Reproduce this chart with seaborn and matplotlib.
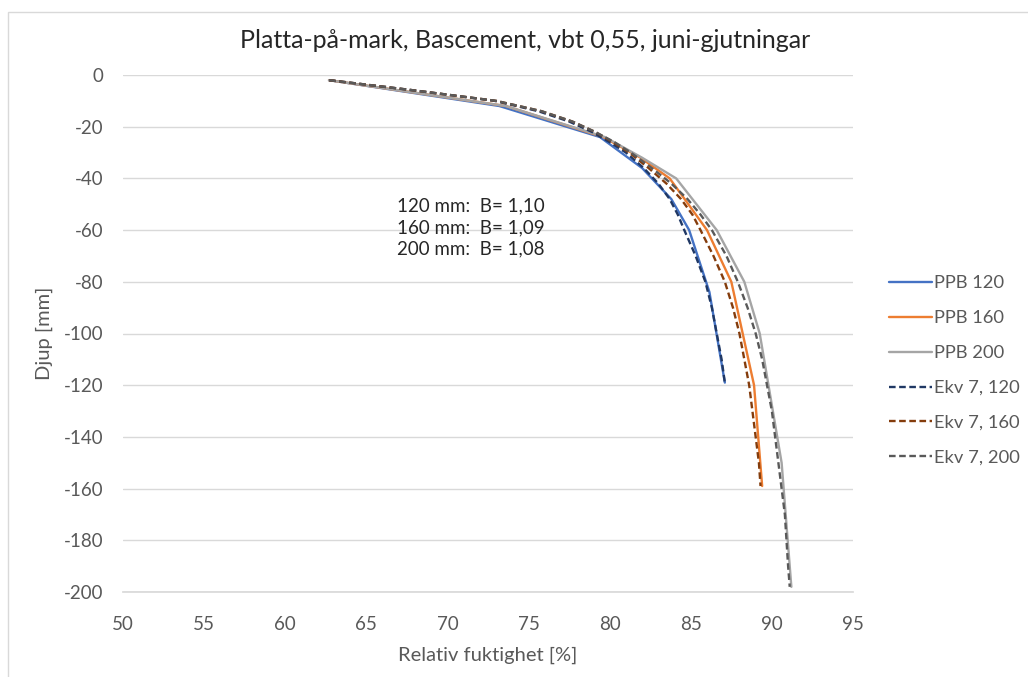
import numpy as np
import pandas as pd
import matplotlib
matplotlib.use("Agg")
import matplotlib.pyplot as plt
from matplotlib.patches import Rectangle
import seaborn as sns

# Measured relative humidity profiles (PPB) for three slab thicknesses
ppb120_djup = [-2, -12, -24, -36, -48, -60, -84, -119]
ppb120_rf = [62.7, 73.2, 79.4, 82.0, 83.8, 84.9, 86.15, 87.1]

ppb160_djup = [-2, -12, -24, -32, -40, -60, -80, -120, -159]
ppb160_rf = [62.7, 73.6, 79.6, 81.9, 83.7, 86.0, 87.5, 88.9, 89.4]

ppb200_djup = [-2, -12, -24, -32, -40, -60, -80, -100, -150, -198]
ppb200_rf = [62.7, 73.6, 79.7, 82.0, 84.1, 86.6, 88.3, 89.25, 90.6, 91.2]

# Calculated profiles (Ekv 7)
ekv120_djup = [-2, -6, -10, -14, -18, -22, -26, -30, -36, -42, -48, -54, -60,
               -70, -80, -90, -100, -110, -119]
ekv120_rf = [62.7, 68.0, 72.9, 75.6, 77.5, 78.9, 80.0, 81.0, 82.1, 83.0, 83.7,
             84.2, 84.6, 85.3, 85.9, 86.3, 86.6, 86.9, 87.1]

ekv160_djup = [-2, -6, -10, -14, -18, -22, -26, -30, -36, -42, -48, -54, -60,
               -70, -80, -90, -100, -110, -120, -130, -140, -150, -159]
ekv160_rf = [62.7, 68.0, 73.0, 75.8, 77.7, 79.1, 80.2, 81.2, 82.4, 83.5, 84.4,
             85.1, 85.6, 86.4, 87.1, 87.6, 88.0, 88.3, 88.6, 88.8, 89.0, 89.2, 89.3]

ekv200_djup = [-2, -6, -10, -14, -18, -22, -26, -30, -36, -42, -48, -54, -60,
               -70, -80, -90, -100, -110, -120, -130, -140, -150, -160, -170,
               -180, -190, -198]
ekv200_rf = [62.7, 68.0, 73.0, 75.8, 77.7, 79.1, 80.3, 81.3, 82.6, 83.8, 84.8,
             85.6, 86.3, 87.2, 87.9, 88.5, 89.0, 89.4, 89.7, 90.0, 90.2, 90.4,
             90.6, 90.8, 90.9, 91.0, 91.1]

serier = ["PPB 120", "PPB 160", "PPB 200", "Ekv 7, 120", "Ekv 7, 160", "Ekv 7, 200"]
b_text = ["120 mm:  B= 1,10", "160 mm:  B= 1,09", "200 mm:  B= 1,08"]
x_ticks = [50, 55, 60, 65, 70, 75, 80, 85, 90, 95]
y_ticks = [0, -20, -40, -60, -80, -100, -120, -140, -160, -180, -200]

data = [
    (ppb120_rf, ppb120_djup), (ppb160_rf, ppb160_djup), (ppb200_rf, ppb200_djup),
    (ekv120_rf, ekv120_djup), (ekv160_rf, ekv160_djup), (ekv200_rf, ekv200_djup),
]
frames = []
for namn, (rf, djup) in zip(serier, data):
    frames.append(pd.DataFrame({"rf": rf, "djup": djup, "serie": namn}))
df = pd.concat(frames, ignore_index=True)

farger = {
    "PPB 120": "#4472C4", "PPB 160": "#ED7D31", "PPB 200": "#A5A5A5",
    "Ekv 7, 120": "#203864", "Ekv 7, 160": "#843C0C", "Ekv 7, 200": "#595959",
}
streck = {
    "PPB 120": "", "PPB 160": "", "PPB 200": "",
    "Ekv 7, 120": (2.8, 1.5), "Ekv 7, 160": (2.8, 1.5), "Ekv 7, 200": (2.8, 1.5),
}

sns.set_theme(style="white")
plt.rcParams["font.family"] = ["Lato", "DejaVu Sans"]
plt.rcParams["axes.unicode_minus"] = False

fig = plt.figure(figsize=(10.28, 6.77), dpi=100)
ax = fig.add_axes([123 / 1028, 1 - 592 / 677, (853 - 123) / 1028, (592 - 75) / 677])

# sort=False keeps each profile in depth order
sns.lineplot(data=df, x="rf", y="djup", hue="serie", style="serie",
             palette=farger, dashes=streck, hue_order=serier, style_order=serier,
             sort=False, estimator=None, linewidth=1.7, ax=ax)

ax.set_xlim(50, 95)
ax.set_ylim(-200, 0)
ax.set_xticks(x_ticks)
ax.set_yticks(y_ticks)
ax.yaxis.grid(True, color="#D9D9D9", linewidth=1)
ax.xaxis.grid(False)
for s in ["top", "right", "left"]:
    ax.spines[s].set_visible(False)
ax.spines["bottom"].set_color("#D9D9D9")
ax.tick_params(axis="both", length=0, labelsize=13.5, labelcolor="#595959")
ax.tick_params(axis="x", pad=17)
ax.tick_params(axis="y", pad=14)

ax.set_xlabel("Relativ fuktighet [%]", fontsize=14.5, color="#595959", labelpad=10)
ax.set_ylabel("Djup [mm]", fontsize=14.5, color="#595959", labelpad=8)

fig.text(525 / 1028, 1 - 40 / 677, "Platta-på-mark, Bascement, vbt 0,55, juni-gjutningar",
         ha="center", va="center", fontsize=18, color="#262626")

ax.text(66.9, -59.0, "\n".join(b_text), ha="left", va="center", fontsize=13.5,
        color="#262626", linespacing=1.32)

handles, labels = ax.get_legend_handles_labels()
ax.get_legend().remove()
leg = fig.legend(handles, labels, loc="upper left",
                 bbox_to_anchor=(882 / 1028, 1 - 268 / 677), frameon=False,
                 fontsize=13.2, handlelength=2.35, handletextpad=0.1,
                 labelspacing=1.03, borderaxespad=0)
for t in leg.get_texts():
    t.set_color("#595959")

fig.patches.append(Rectangle((8 / 1028, -0.1), 1.2, 1 - 12 / 677 + 0.1,
                             transform=fig.transFigure, fill=False,
                             edgecolor="#D9D9D9", linewidth=1))

fig.savefig("out.png", dpi=100, facecolor="white")
